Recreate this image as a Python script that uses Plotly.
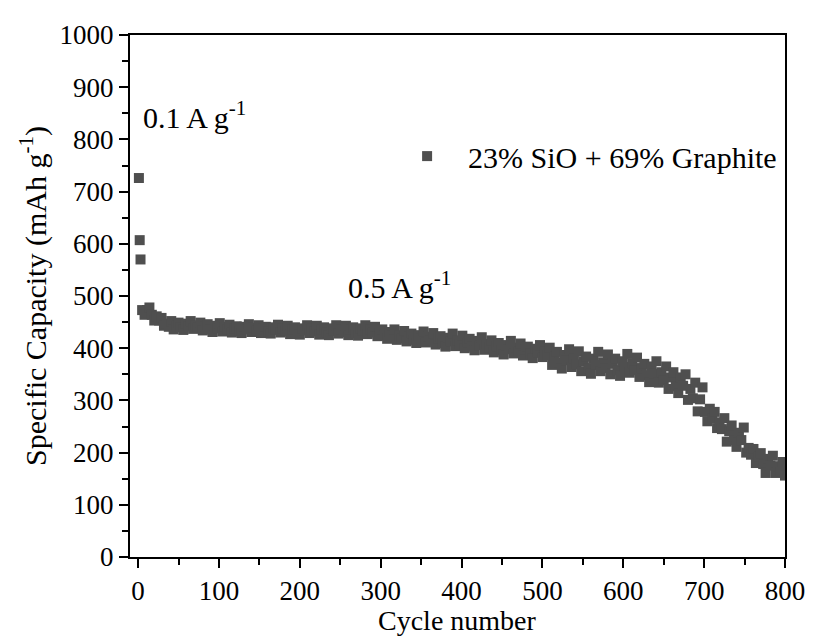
import plotly.graph_objects as go

# 0.1 A g-1 formation cycles
cycles_formation = [1, 2, 3]
capacity_formation = [726, 607, 570]

# 0.5 A g-1 cycling (cycle 5 to 800, every 3rd cycle)
cycles_cycling = list(range(5, 801, 3))
capacity_cycling = [
    473, 464, 473, 478, 464, 453, 461, 453, 458, 443, 447, 441,
    452, 436, 444, 449, 440, 435, 447, 442, 452, 437, 444, 440,
    449, 434, 442, 446, 436, 431, 443, 438, 448, 432, 441, 436,
    445, 430, 438, 442, 433, 429, 441, 436, 446, 431, 439, 434,
    444, 429, 437, 441, 432, 428, 440, 435, 445, 430, 438, 433,
    443, 427, 435, 440, 431, 426, 438, 434, 444, 429, 437, 432,
    443, 426, 435, 440, 430, 425, 438, 433, 444, 428, 436, 431,
    443, 425, 435, 440, 429, 424, 438, 433, 444, 427, 435, 430,
    441, 423, 431, 436, 424, 418, 431, 425, 436, 416, 425, 419,
    433, 413, 423, 428, 416, 410, 425, 419, 432, 411, 422, 415,
    429, 407, 418, 423, 410, 403, 420, 413, 428, 404, 415, 408,
    424, 400, 411, 418, 403, 396, 414, 406, 421, 397, 408, 401,
    415, 392, 404, 410, 396, 388, 406, 398, 414, 390, 401, 394,
    409, 386, 397, 403, 389, 381, 399, 391, 406, 383, 394, 387,
    401, 368, 385, 393, 372, 361, 387, 377, 398, 364, 380, 369,
    394, 356, 375, 384, 362, 351, 380, 368, 393, 356, 373, 362,
    388, 350, 370, 380, 358, 347, 375, 364, 389, 353, 371, 358,
    382, 345, 362, 370, 348, 335, 365, 351, 375, 334, 354, 339,
    365, 322, 344, 354, 327, 314, 344, 328, 350, 301, 322, 304,
    334, 279, 302, 325, 278, 260, 284, 266, 278, 247, 258, 245,
    266, 221, 241, 252, 224, 211, 238, 224, 248, 200, 209, 196,
    207, 180, 192, 199, 178, 161, 188, 175, 194, 161, 174, 163,
    182, 156,
]

cycles = cycles_formation + cycles_cycling
capacity = capacity_formation + capacity_cycling

series_name = "23% SiO + 69% Graphite"
x_title = "Cycle number"
y_title = "Specific Capacity (mAh g<sup>-1</sup>)"
x_ticks = list(range(0, 801, 100))
y_ticks = list(range(0, 1001, 100))

FONT = "Liberation Serif, Times New Roman, serif"
COLOR = "#4f4f4f"

fig = go.Figure()
fig.add_trace(go.Scatter(
    x=cycles, y=capacity, mode="markers", name=series_name,
    marker=dict(symbol="square", size=10, color=COLOR, line=dict(width=0)),
))

axis_common = dict(
    showline=True, linewidth=2, linecolor="black", mirror=True,
    ticks="outside", ticklen=9, tickwidth=2, tickcolor="black",
    showgrid=False, zeroline=False,
    tickfont=dict(family=FONT, size=27, color="black"),
)

fig.update_xaxes(
    range=[-10, 800], tickvals=x_ticks,
    minor=dict(ticks="outside", ticklen=6, tickwidth=2, tickcolor="black", dtick=50, tick0=0, showgrid=False),
    **axis_common,
)
fig.update_yaxes(
    range=[0, 1000], tickvals=y_ticks,
    minor=dict(ticks="outside", ticklen=6, tickwidth=2, tickcolor="black", dtick=50, tick0=0, showgrid=False),
    title=dict(text=y_title, font=dict(family=FONT, size=30, color="black"), standoff=4),
    **axis_common,
)

# x-axis title pinned to the bottom edge of the figure
fig.add_annotation(x=0.5, y=-82 / 533, xref="paper", yref="paper", text=x_title,
                   showarrow=False, xanchor="center", yanchor="bottom", yshift=0,
                   borderpad=0,
                   font=dict(family=FONT, size=28, color="black"))

fig.add_annotation(x=3, y=846, xref="x", yref="y", text="0.1 A g<sup>-1</sup>",
                   showarrow=False, xanchor="left", yanchor="middle",
                   font=dict(family=FONT, size=30, color="black"))
fig.add_annotation(x=257, y=522, xref="x", yref="y", text="0.5 A g<sup>-1</sup>",
                   showarrow=False, xanchor="left", yanchor="middle",
                   font=dict(family=FONT, size=30, color="black"))

# the page body has an 8 px default margin, so the figure is 8 px smaller
fig.update_layout(
    width=809, height=631,
    margin=dict(l=122, r=25, t=16, b=82),
    paper_bgcolor="white", plot_bgcolor="white",
    showlegend=True,
    legend=dict(x=0.391, y=0.768, xanchor="left", yanchor="middle",
                bgcolor="rgba(0,0,0,0)", itemwidth=72,
                font=dict(family=FONT, size=30, color="black")),
)

fig.write_html("out.html")
